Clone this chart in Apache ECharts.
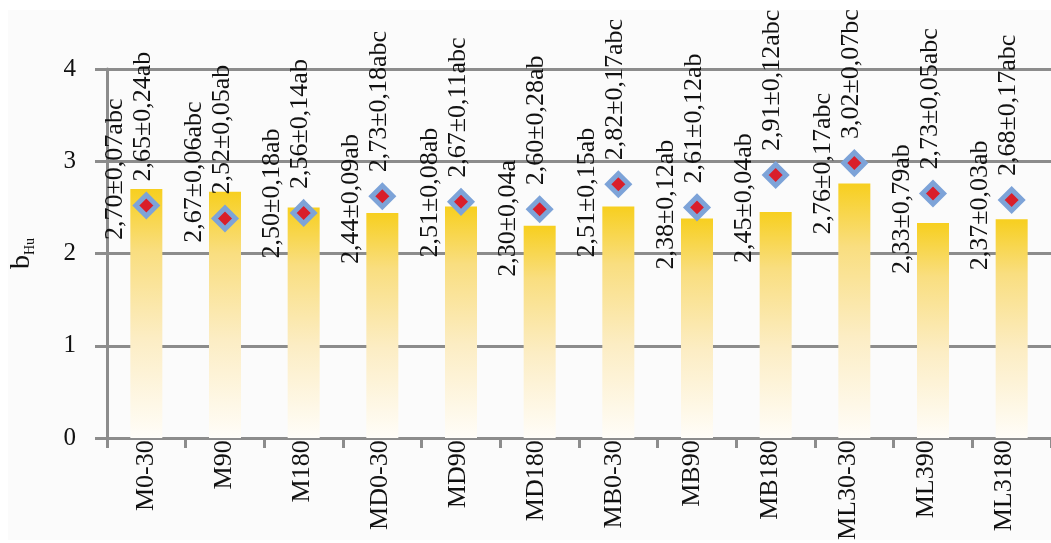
<!DOCTYPE html>
<html><head><meta charset="utf-8">
<script src="https://cdn.jsdelivr.net/npm/echarts@6/dist/echarts.min.js"></script>
<style>html,body{margin:0;padding:0;background:#fff}#c{width:1051px;height:543px}</style>
</head><body><div id="c"></div>
<script>
const categories = ['M0-30','M90','M180','MD0-30','MD90','MD180','MB0-30','MB90','MB180','ML30-30','ML390','ML3180'];
const barValues = [2.70,2.67,2.50,2.44,2.51,2.30,2.51,2.38,2.45,2.76,2.33,2.37];
const barLabels = ['2,70±0,07abc','2,67±0,06abc','2,50±0,18ab','2,44±0,09ab','2,51±0,08ab','2,30±0,04a','2,51±0,15ab','2,38±0,12ab','2,45±0,04ab','2,76±0,17abc','2,33±0,79ab','2,37±0,03ab'];
const pointValues = [2.52,2.38,2.44,2.62,2.56,2.48,2.75,2.50,2.85,2.98,2.65,2.58];
const pointLabels = ['2,65±0,24ab','2,52±0,05ab','2,56±0,14ab','2,73±0,18abc','2,67±0,11abc','2,60±0,28ab','2,82±0,17abc','2,61±0,12ab','2,91±0,12abc','3,02±0,07bc','2,73±0,05abc','2,68±0,17abc'];
const yTicks = [0,1,2,3,4];

const FONT = '"Liberation Serif", "Times New Roman", serif';
const GRAY = '#8c8c8c';
const chart = echarts.init(document.getElementById('c'), null, {renderer:'canvas'});
chart.setOption({
  animation:false,
  backgroundColor:'#ffffff',
  graphic:[{type:'rect', z:-10, silent:true, shape:{x:8,y:10,width:1043,height:530}, style:{fill:'#fbfbfb'}}],
  grid:[
    {left:97, top:69, right:-10, bottom:105, containLabel:false},
    {left:107, top:69, width:936, bottom:105, containLabel:false}
  ],
  xAxis:[
    {type:'category', gridIndex:0, data:categories, boundaryGap:true,
     axisLine:{show:true, lineStyle:{color:GRAY, width:3}},
     axisTick:{show:true, length:10, lineStyle:{color:GRAY, width:3}},
     axisLabel:{show:false}},
    {type:'category', gridIndex:1, data:categories, position:'bottom',
     axisLine:{show:false}, axisTick:{show:false},
     axisLabel:{show:true, rotate:90, margin:7, fontFamily:FONT, fontSize:26, color:'#111', interval:0}}
  ],
  yAxis:[
    {type:'value', gridIndex:0, min:yTicks[0], max:yTicks[yTicks.length-1], interval:1,
     name:'{b|b}{s|Hu}', nameLocation:'middle', nameRotate:90, nameGap:70,
     nameTextStyle:{rich:{b:{fontFamily:FONT, fontSize:28, color:'#111', lineHeight:30, verticalAlign:'middle'}, s:{fontFamily:FONT, fontSize:14, color:'#111', lineHeight:14, verticalAlign:'bottom'}}},
     axisLine:{show:true, lineStyle:{color:GRAY, width:3}},
     axisTick:{show:true, length:12, lineStyle:{color:GRAY, width:3}},
     splitLine:{show:true, lineStyle:{color:GRAY, width:3}},
     axisLabel:{margin:31, fontFamily:FONT, fontSize:25, color:'#111'}},
    {type:'value', gridIndex:1, min:0, max:4, show:false}
  ],
  series:[
    {type:'bar', xAxisIndex:0, yAxisIndex:0, data:barValues, barWidth:32, z:2,
     itemStyle:{color:new echarts.graphic.LinearGradient(0,0,0,1,[
        {offset:0,color:'#f7cf1f'},{offset:0.25,color:'#f9de80'},{offset:0.6,color:'#fcedc4'},{offset:1,color:'#fffdf8'}])},
     label:{show:true, position:'top', distance:-51, rotate:90, align:'left', verticalAlign:'middle', offset:[0,-31],
        fontFamily:FONT, fontSize:26, color:'#111', formatter:p=>barLabels[p.dataIndex]}},
    {type:'scatter', xAxisIndex:0, yAxisIndex:0, data:pointValues, symbol:'diamond', symbolSize:21, z:5,
     itemStyle:{color:'#d91e2a', borderColor:'#7da3d8', borderWidth:5, opacity:1},
     label:{show:true, position:'top', distance:11, rotate:90, align:'left', verticalAlign:'middle', offset:[0,-3],
        fontFamily:FONT, fontSize:26, color:'#111', formatter:p=>pointLabels[p.dataIndex]}}
  ]
});
</script></body></html>
